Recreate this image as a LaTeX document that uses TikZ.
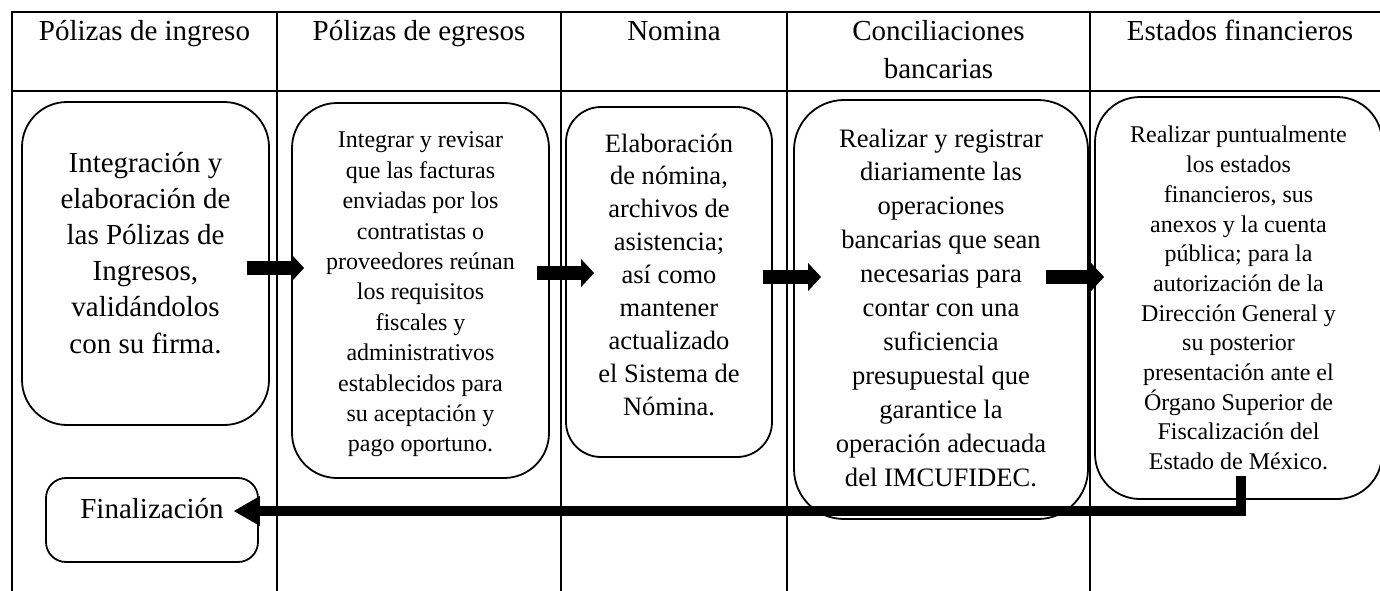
\documentclass[tikz,border=0pt]{standalone}
\usepackage{fontspec}
\setmainfont{Liberation Serif}
\usetikzlibrary{arrows.meta,positioning,calc}
% texto de un proceso: ancho, alto, espacio arriba, texto
\newcommand{\cajatxt}[4]{\parbox[c][#2][t]{#1}{\centering\vspace*{#3}\strut#4}}

\begin{document}
\begin{tikzpicture}[x=1pt,y=-1pt,every node/.style={inner sep=0pt},
  rejilla/.style={line width=2pt},
  proc/.style={draw,line width=1.8pt,rounded corners=#1},
  hdr/.style={anchor=base,font=\fontsize{29}{38}\selectfont},
  fwd/.style={line width=14pt,-{Triangle[length=13pt,width=28pt,line width=0pt]}},
  ret/.style={line width=10pt,line join=miter,-{Triangle[length=26pt,width=30pt,line width=0pt]}}]
\useasboundingbox (0,0) rectangle (1380,590);
\clip (0,0) rectangle (1380,590);
% tabla
\draw[rejilla] (12,600) -- (12,12) -- (1400,12);
\draw[rejilla] (12,91) -- (1400,91);
\foreach \x in {277,561,787,1090} \draw[rejilla] (\x,12) -- (\x,600);
% encabezados
\node[hdr] (h1) at (144.5,40) {Pólizas de ingreso};
\node[hdr] (h2) at (419,40) {Pólizas de egresos};
\node[hdr] (h3) at (674,40) {Nomina};
\node[hdr] (h4) at (938.5,40) {\parbox[t]{290pt}{\centering Conciliaciones\\bancarias}};
\node[hdr] (h5) at (1240,40) {Estados financieros};
% procesos
\node[proc=45pt,font=\fontsize{29}{36.2}\selectfont] (b1) at (145.5,263.5)
  {\cajatxt{247pt}{323pt}{44.7pt}{Integración y\\elaboración de\\las Pólizas de\\Ingresos,\\validándolos\\con su firma.}};
\node[proc=45pt,font=\fontsize{24}{30.4}\selectfont] (b2) at (420.5,290.5)
  {\cajatxt{257pt}{375pt}{23.7pt}{Integrar y revisar\\que las facturas\\enviadas por los\\contratistas o\\proveedores reúnan\\los requisitos\\fiscales y\\administrativos\\establecidos para\\su aceptación y\\pago oportuno.}};
\node[proc=35pt,font=\fontsize{26.5}{32.9}\selectfont] (b3) at (669,282)
  {\cajatxt{206pt}{350pt}{22pt}{Elaboración\\de nómina,\\archivos de\\asistencia;\\así como\\mantener\\actualizado\\el Sistema de\\Nómina.}};
\node[proc=50pt,font=\fontsize{26.6}{33.9}\selectfont] (b4) at (941,309.5)
  {\cajatxt{294pt}{419pt}{23.3pt}{Realizar y registrar\\diariamente las\\operaciones\\bancarias que sean\\necesarias para\\contar con una\\suficiencia\\presupuestal que\\garantice la\\operación adecuada\\del IMCUFIDEC.}};
\node[proc=45pt,font=\fontsize{24}{29.7}\selectfont] (b5) at (1238.5,298)
  {\cajatxt{287pt}{402pt}{25.2pt}{Realizar puntualmente\\los estados\\financieros, sus\\anexos y la cuenta\\pública; para la\\autorización de la\\Dirección General y\\su posterior\\presentación ante el\\Órgano Superior de\\Fiscalización del\\Estado de México.}};
\node[proc=20pt,font=\fontsize{29}{35}\selectfont] (fin) at (152,520)
  {\cajatxt{212pt}{84pt}{15.5pt}{Finalización}};
% flechas
\draw[fwd] ($(b1.east)+(-23,4.5)$) -- ($(b2.west)+(13,-22.5)$);
\draw[fwd] ($(b2.east)+(-13,-17.5)$) -- ($(b3.west)+(29,-9)$);
\draw[fwd] ($(b3.east)+(-10,-5)$) -- ($(b4.west)+(28,-32.5)$);
\draw[fwd] ($(b4.east)+(-43,-32.5)$) -- ($(b5.west)+(10,-21)$);
\draw[ret] ($(b5.south west)+(147,-24)$) |- ($(fin.east)+(-25,-9)$);
\end{tikzpicture}
\end{document}
